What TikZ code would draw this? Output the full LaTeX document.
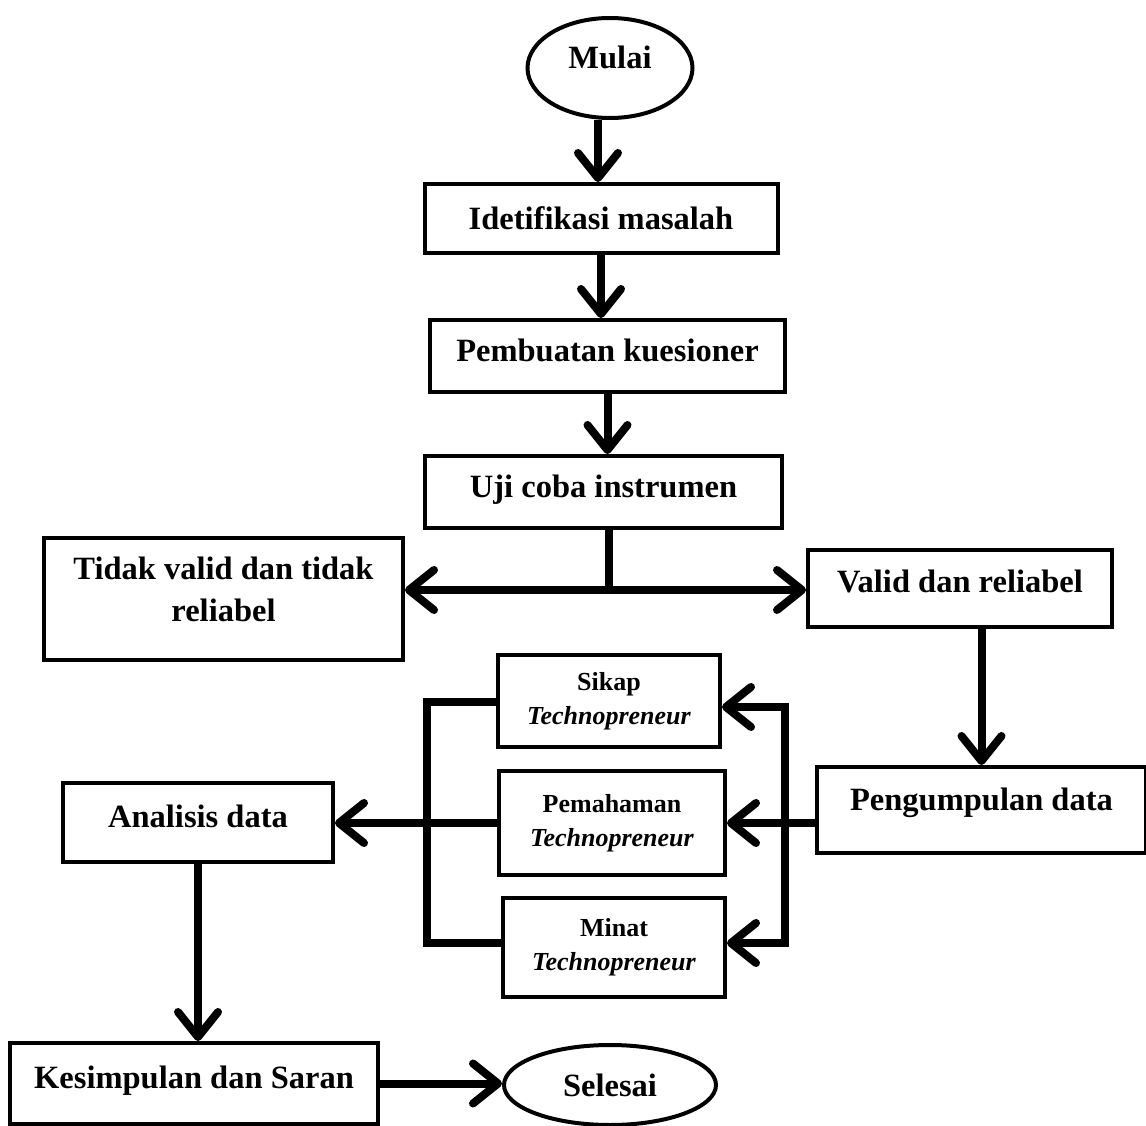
\documentclass[tikz,border=0pt]{standalone}
\usepackage{fontspec}
\setmainfont{Liberation Serif}
\usetikzlibrary{arrows.meta,shapes.geometric}
\tikzset{
  box/.style={draw, line width=4pt, rectangle, inner sep=0pt, align=center,
    font=\fontsize{32.5}{42}\selectfont\bfseries},
  smallbox/.style={box, font=\fontsize{26}{34}\selectfont\bfseries},
  oval/.style={draw, line width=4pt, ellipse, inner sep=0pt,
    font=\fontsize{32.5}{42}\selectfont\bfseries},
  conn/.style={line width=8pt, line join=miter},
  arr/.style={conn, -{Straight Barb[length=25pt,width=40pt,line cap=round,round]}},
  dblarr/.style={conn, {Straight Barb[length=25pt,width=40pt,line cap=round,round]}-{Straight Barb[length=25pt,width=40pt,line cap=round,round]}},
}
\begin{document}
\begin{tikzpicture}[x=1pt,y=-1pt]
\useasboundingbox (0,0) rectangle (1146,1126);
\node[oval, minimum width=165pt, minimum height=100pt, text depth=22pt] (mulai) at (610,68) {Mulai};
\node[box, minimum width=353pt, minimum height=69pt] (idet) at (601,218.5) {Idetifikasi masalah};
\node[box, minimum width=355pt, minimum height=72pt, text depth=12pt] (pemb) at (607.5,356) {Pembuatan kuesioner};
\node[box, minimum width=357pt, minimum height=72pt, text depth=12pt] (uji) at (603.5,492) {Uji coba instrumen};
\node[box, minimum width=359pt, minimum height=122pt, text depth=20pt] (tidak) at (223.5,599) {Tidak valid dan tidak\\reliabel};
\node[box, minimum width=304pt, minimum height=77pt, text depth=14pt] (valid) at (960,588.5) {Valid dan reliabel};
\node[box, minimum width=329pt, minimum height=86pt, text depth=22pt] (peng) at (981.5,810) {Pengumpulan data};
\node[smallbox, minimum width=222pt, minimum height=92pt] (sikap) at (609,701) {Sikap\\\textit{Technopreneur}};
\node[smallbox, minimum width=226pt, minimum height=104pt] (pem) at (612,823) {Pemahaman\\\textit{Technopreneur}};
\node[smallbox, minimum width=222pt, minimum height=99pt] (minat) at (614,947.5) {Minat\\\textit{Technopreneur}};
\node[box, minimum width=270pt, minimum height=79pt, text depth=12pt] (ana) at (198,822.5) {Analisis data};
\node[box, minimum width=368pt, minimum height=81pt, text depth=12pt] (kes) at (194,1083.5) {Kesimpulan dan Saran};
\node[oval, minimum width=212pt, minimum height=80pt] (sel) at (610,1085) {Selesai};

\coordinate (split) at (609,590);
\coordinate (rt) at (785,707);
\coordinate (rb) at (785,943);
\coordinate (lt) at (427,702);
\coordinate (lb) at (427,943);

\draw[arr] ([xshift=-12pt]mulai.south) -- ([xshift=-12pt]mulai.south |- idet.north);
\draw[arr] (idet.south) -- (idet.south |- pemb.north);
\draw[arr] (pemb.south) -- (pemb.south |- uji.north);
\draw[conn] (uji.south -| split) -- (split);
\draw[arr] (split) -- (split -| tidak.east);
\draw[arr] (split) -- (split -| valid.west);
\draw[arr] (peng.north |- valid.south) -- (peng.north);
\draw[arr] (pem.east -| peng.west) -- (pem.east);
\draw[dblarr] (rt -| sikap.east) -- (rt) -- (rb) -- (rb -| minat.east);
\draw[conn] (lt -| sikap.west) -- (lt) -- (lb) -- (lb -| minat.west);
\draw[arr] (pem.west) -- (pem.west -| ana.east);
\draw[arr] (ana.south) -- (ana.south |- kes.north);
\draw[arr] (kes.east) -- (kes.east -| sel.west);
\end{tikzpicture}
\end{document}
